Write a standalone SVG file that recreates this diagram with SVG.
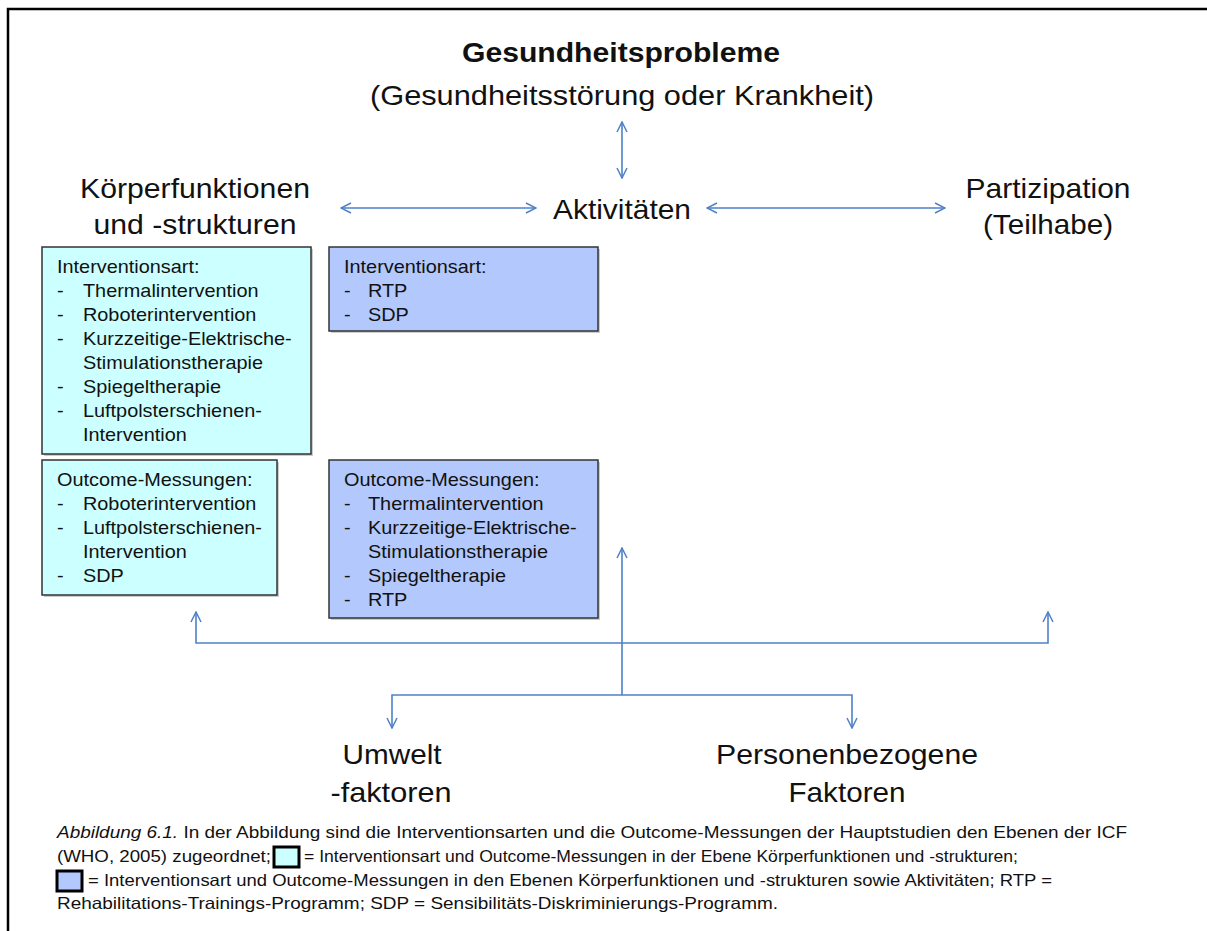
<svg xmlns="http://www.w3.org/2000/svg" width="1207" height="931" viewBox="0 0 1207 931">
<style>
  text { font-family: "Liberation Sans", Arial, sans-serif; fill: #111; }
  .big { font-size: 28px; text-anchor: middle; }
  .title { font-size: 28px; font-weight: bold; text-anchor: middle; }
  .box text { font-size: 18px; }
  .cyan { fill: #ccffff; stroke: #333; stroke-width: 1.5; }
  .blue { fill: #b3c8fc; stroke: #333; stroke-width: 1.5; }
  .shadow { fill: #999; opacity: 0.5; }
  .conn { stroke: #4f81c7; stroke-width: 1.6; fill: none; }
  .cap { font-size: 16.5px; }
  .leg1 { fill: #ccffff; stroke: #000; stroke-width: 3; }
  .leg2 { fill: #b3c8fc; stroke: #000; stroke-width: 3; }
</style>
<defs>
  <marker id="ah" viewBox="0 0 12 12" refX="11" refY="6" markerWidth="12" markerHeight="12" markerUnits="userSpaceOnUse" orient="auto-start-reverse">
    <path d="M1,1 L11,6 L1,11" fill="none" stroke="#4f81c7" stroke-width="1.5"/>
  </marker>
</defs>
<rect width="1207" height="931" fill="#fff"/>
<path d="M8,931 V9 H1207" fill="none" stroke="#000" stroke-width="2.5"/>

<g id="gesundheitsprobleme">
  <text class="title" x="621" y="62" textLength="318" lengthAdjust="spacingAndGlyphs">Gesundheitsprobleme</text>
  <text class="big" x="622" y="105" textLength="504" lengthAdjust="spacingAndGlyphs">(Gesundheitsstörung oder Krankheit)</text>
</g>
<g id="koerperfunktionen">
  <text class="big" x="195" y="198" textLength="230" lengthAdjust="spacingAndGlyphs">Körperfunktionen</text>
  <text class="big" x="195" y="234" textLength="203" lengthAdjust="spacingAndGlyphs">und -strukturen</text>
</g>
<g id="aktivitaeten">
  <text class="big" x="622" y="219" textLength="138" lengthAdjust="spacingAndGlyphs">Aktivitäten</text>
</g>
<g id="partizipation">
  <text class="big" x="1048" y="198" textLength="165" lengthAdjust="spacingAndGlyphs">Partizipation</text>
  <text class="big" x="1048" y="234" textLength="130" lengthAdjust="spacingAndGlyphs">(Teilhabe)</text>
</g>

<g id="box-kf-intervention" class="box">
  <rect class="shadow" x="44" y="249" width="269" height="207"/>
  <rect class="cyan" x="42" y="247" width="269" height="207"/>
  <g transform="translate(57 0) scale(1.105 1)">
    <text x="0" y="273">Interventionsart:</text>
    <text x="0" y="297">-</text><text x="23.5" y="297">Thermalintervention</text>
    <text x="0" y="321">-</text><text x="23.5" y="321">Roboterintervention</text>
    <text x="0" y="345">-</text><text x="23.5" y="345">Kurzzeitige-Elektrische-</text>
    <text x="23.5" y="369">Stimulationstherapie</text>
    <text x="0" y="393">-</text><text x="23.5" y="393">Spiegeltherapie</text>
    <text x="0" y="417">-</text><text x="23.5" y="417">Luftpolsterschienen-</text>
    <text x="23.5" y="441">Intervention</text>
  </g>
</g>
<g id="box-akt-intervention" class="box">
  <rect class="shadow" x="331" y="249" width="269" height="84"/>
  <rect class="blue" x="329" y="247" width="269" height="84"/>
  <g transform="translate(344 0) scale(1.105 1)">
    <text x="0" y="273">Interventionsart:</text>
    <text x="0" y="297">-</text><text x="21.7" y="297">RTP</text>
    <text x="0" y="321">-</text><text x="21.7" y="321">SDP</text>
  </g>
</g>
<g id="box-kf-outcome" class="box">
  <rect class="shadow" x="44" y="462" width="235" height="135"/>
  <rect class="cyan" x="42" y="460" width="235" height="135"/>
  <g transform="translate(57 0) scale(1.105 1)">
    <text x="0" y="486">Outcome-Messungen:</text>
    <text x="0" y="510">-</text><text x="23.5" y="510">Roboterintervention</text>
    <text x="0" y="534">-</text><text x="23.5" y="534">Luftpolsterschienen-</text>
    <text x="23.5" y="558">Intervention</text>
    <text x="0" y="582">-</text><text x="23.5" y="582">SDP</text>
  </g>
</g>
<g id="box-akt-outcome" class="box">
  <rect class="shadow" x="331" y="462" width="269" height="158"/>
  <rect class="blue" x="329" y="460" width="269" height="158"/>
  <g transform="translate(344 0) scale(1.105 1)">
    <text x="0" y="486">Outcome-Messungen:</text>
    <text x="0" y="510">-</text><text x="21.7" y="510">Thermalintervention</text>
    <text x="0" y="534">-</text><text x="21.7" y="534">Kurzzeitige-Elektrische-</text>
    <text x="21.7" y="558">Stimulationstherapie</text>
    <text x="0" y="582">-</text><text x="21.7" y="582">Spiegeltherapie</text>
    <text x="0" y="606">-</text><text x="21.7" y="606">RTP</text>
  </g>
</g>

<g id="umwelt">
  <text class="big" x="392" y="764" textLength="99" lengthAdjust="spacingAndGlyphs">Umwelt</text>
  <text class="big" x="391" y="802" textLength="121" lengthAdjust="spacingAndGlyphs">-faktoren</text>
</g>
<g id="personenbezogen">
  <text class="big" x="847" y="764" textLength="262" lengthAdjust="spacingAndGlyphs">Personenbezogene</text>
  <text class="big" x="847" y="802" textLength="117" lengthAdjust="spacingAndGlyphs">Faktoren</text>
</g>

<g id="connectors" class="conn">
  <line x1="622" y1="122" x2="622" y2="178" marker-start="url(#ah)" marker-end="url(#ah)"/>
  <line x1="341" y1="208" x2="536" y2="208" marker-start="url(#ah)" marker-end="url(#ah)"/>
  <line x1="707" y1="208" x2="945" y2="208" marker-start="url(#ah)" marker-end="url(#ah)"/>
  <line x1="622" y1="695" x2="622" y2="548" marker-end="url(#ah)"/>
  <polyline points="196,612 196,643 1048,643 1048,612" marker-start="url(#ah)" marker-end="url(#ah)"/>
  <polyline points="392,728 392,695 852,695 852,728" marker-start="url(#ah)" marker-end="url(#ah)"/>
</g>

<g id="caption">
  <text class="cap" x="57" y="838" textLength="1070" lengthAdjust="spacingAndGlyphs"><tspan font-style="italic">Abbildung 6.1.</tspan> In der Abbildung sind die Interventionsarten und die Outcome-Messungen der Hauptstudien den Ebenen der ICF</text>
  <text class="cap" x="57" y="862" textLength="214" lengthAdjust="spacingAndGlyphs">(WHO, 2005) zugeordnet;</text>
  <rect class="leg1" x="274" y="847" width="25" height="20"/>
  <text class="cap" x="304" y="862" textLength="714" lengthAdjust="spacingAndGlyphs">= Interventionsart und Outcome-Messungen in der Ebene Körperfunktionen und -strukturen;</text>
  <rect class="leg2" x="57" y="871" width="25" height="20"/>
  <text class="cap" x="88" y="886" textLength="964" lengthAdjust="spacingAndGlyphs">= Interventionsart und Outcome-Messungen in den Ebenen Körperfunktionen und -strukturen sowie Aktivitäten; RTP =</text>
  <text class="cap" x="57" y="909" textLength="721" lengthAdjust="spacingAndGlyphs">Rehabilitations-Trainings-Programm; SDP = Sensibilitäts-Diskriminierungs-Programm.</text>
</g>
</svg>
